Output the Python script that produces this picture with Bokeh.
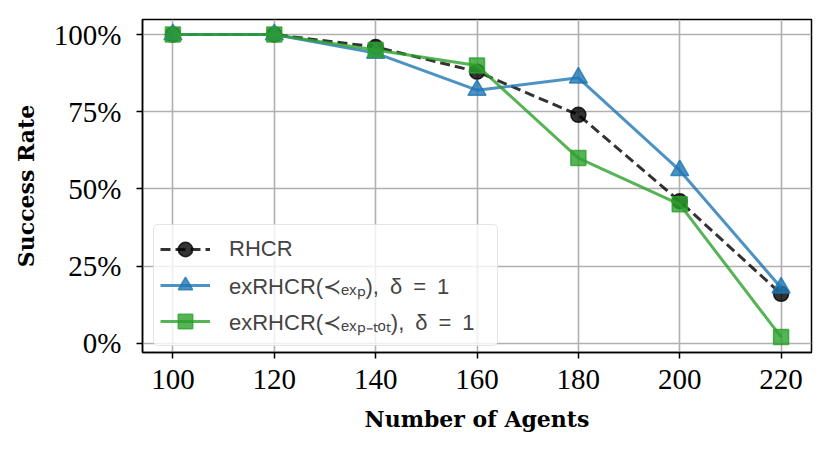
from bokeh.plotting import figure
from bokeh.models import FixedTicker, Legend, LegendItem, Range1d
from bokeh.embed import file_html
from bokeh.resources import INLINE

# ---- data ----
agents = [100, 120, 140, 160, 180, 200, 220]
rhcr = [100, 100, 96, 88, 74, 46, 16]
ex_exp = [100, 100, 94, 82, 86, 56, 18]
ex_tot = [100, 100, 95, 90, 60, 45, 2]
x_ticks = [100, 120, 140, 160, 180, 200, 220]
y_ticks = [0, 25, 50, 75, 100]
y_tick_labels = ["0%", "25%", "50%", "75%", "100%"]
series_labels = ["RHCR",
                 "exRHCR(≺ₑₓₚ),\u2002δ\u2002=\u20021",
                 "exRHCR(≺ₑₓₚ₋ₜₒₜ),\u2002δ\u2002=\u20021"]
x_label = "Number of Agents"
y_label = "Success Rate"

p = figure(width=814, height=434, output_backend="svg", toolbar_location=None,
           x_range=Range1d(94, 226), y_range=Range1d(-3.0, 104.9),
           min_border_left=142, min_border_right=3, min_border_top=19, min_border_bottom=82)

p.outline_line_color = "black"
p.outline_line_width = 1.5
p.background_fill_color = "white"
p.border_fill_color = "white"

for ax in (p.xaxis[0], p.yaxis[0]):
    ax.axis_line_width = 1.5
    ax.major_tick_line_width = 1.5
    ax.major_tick_out = 6
    ax.major_tick_in = 0
    ax.minor_tick_out = 0
    ax.minor_tick_in = 0
    ax.major_label_text_font = "Liberation Serif"
    ax.major_label_text_font_size = "29px"
    ax.major_label_text_color = "black"
    ax.axis_label_text_font = "DejaVu Serif"
    ax.axis_label_text_font_style = "bold"
    ax.axis_label_text_font_size = "22px"
    ax.axis_label_text_color = "black"

p.xaxis.ticker = FixedTicker(ticks=x_ticks)
p.yaxis.ticker = FixedTicker(ticks=y_ticks)
p.yaxis.major_label_overrides = {t: l for t, l in zip(y_ticks, y_tick_labels)}
p.xaxis.axis_label = x_label
p.yaxis.axis_label = y_label
p.xaxis.major_label_standoff = 11
p.yaxis.major_label_standoff = 15
p.xaxis.axis_label_standoff = 14
p.yaxis.axis_label_standoff = 12

p.grid.grid_line_color = "#b0b0b0"
p.grid.grid_line_width = 1.6

black = "#000000"
blue = "#1f77b4"
green = "#2ca02c"

l1 = p.line(agents, rhcr, line_color=black, line_width=3, line_alpha=0.8, line_dash="10 5")
s1 = p.scatter(agents, rhcr, marker="circle", size=15, fill_color=black, line_color=black,
               fill_alpha=0.8, line_alpha=0.8, line_width=1.5)
l2 = p.line(agents, ex_exp, line_color=blue, line_width=3, line_alpha=0.8)
s2 = p.scatter(agents, ex_exp, marker="triangle", size=18, fill_color=blue, line_color=blue,
               fill_alpha=0.8, line_alpha=0.8, line_width=1.5)
l3 = p.line(agents, ex_tot, line_color=green, line_width=3, line_alpha=0.8)
s3 = p.scatter(agents, ex_tot, marker="square", size=15, fill_color=green, line_color=green,
               fill_alpha=0.8, line_alpha=0.8, line_width=1.5)

legend = Legend(items=[LegendItem(label=series_labels[0], renderers=[l1, s1]),
                       LegendItem(label=series_labels[1], renderers=[l2, s2]),
                       LegendItem(label=series_labels[2], renderers=[l3, s3])],
                location=(11, 6))
legend.label_text_font = "Liberation Sans"
legend.label_text_font_size = "22px"
legend.label_standoff = 19
legend.label_width = 262
legend.glyph_width = 50
legend.glyph_height = 36
legend.label_height = 36
legend.spacing = 0
legend.padding = 6
legend.margin = 0
legend.border_line_color = "#cccccc"
legend.border_line_width = 1.5
legend.background_fill_alpha = 0.8
try:
    legend.border_radius = 5
except Exception:
    pass
p.add_layout(legend, "center")

open("out.html", "w").write(file_html(p, INLINE))
